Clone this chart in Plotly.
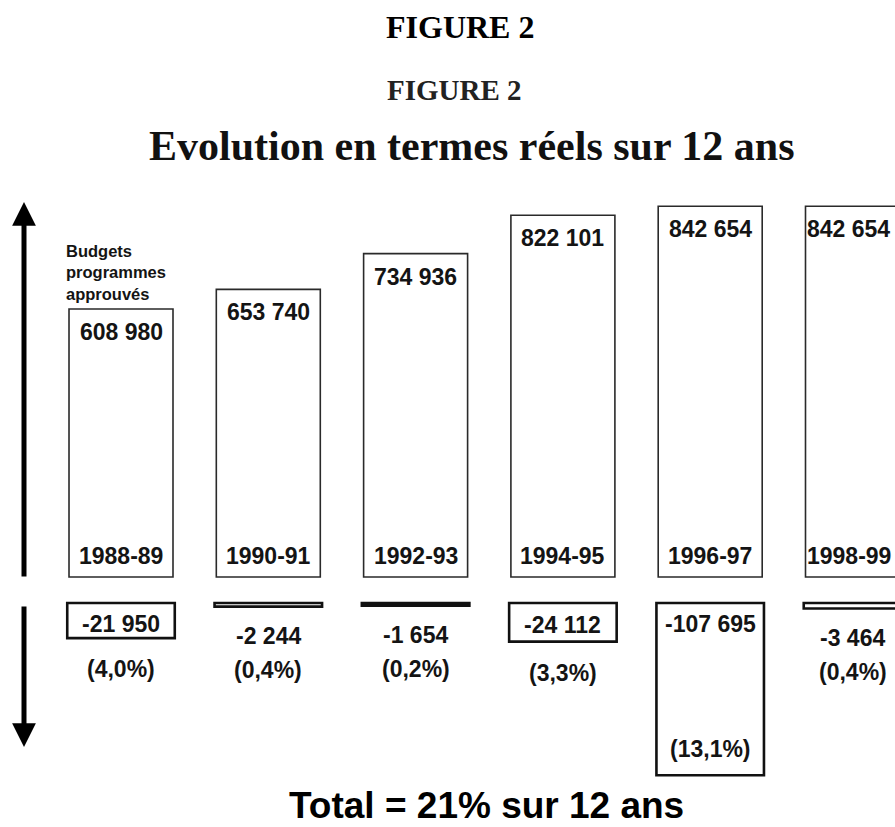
import plotly.graph_objects as go

# ---------------- data ----------------
periods = ["1988-89", "1990-91", "1992-93", "1994-95", "1996-97", "1998-99"]
budgets = [608980, 653740, 734936, 822101, 842654, 842654]
reductions = [-21950, -2244, -1654, -24112, -107695, -3464]
reduction_pct = ["(4,0%)", "(0,4%)", "(0,2%)", "(3,3%)", "(13,1%)", "(0,4%)"]

fig_label = "FIGURE 2"
main_title = "Evolution en termes réels sur 12 ans"
budget_note = "Budgets<br>programmes<br>approuvés"
total_note = "Total = 21% sur 12 ans"

# ---------------- layout helpers ----------------
W, H = 895, 827
SANS = "Liberation Sans, Arial, Helvetica, sans-serif"
SERIF = "Liberation Serif, Times New Roman, serif"
INK = "#141414"


def py(px):
    return 1 - px / H


def fmt(v):
    s = f"{abs(v):,}".replace(",", " ")
    return ("-" if v < 0 else "") + s


fig = go.Figure()
fig.add_trace(go.Bar(
    x=periods, y=budgets, width=0.706, xaxis="x", yaxis="y",
    marker=dict(color="white", line=dict(color="#2a2a2a", width=1.6)),
    hoverinfo="x+y", showlegend=False,
))
fig.add_trace(go.Bar(
    x=periods, y=reductions, width=0.73, xaxis="x2", yaxis="y2",
    marker=dict(color="white", line=dict(color="#111111", width=2.6)),
    hoverinfo="x+y", showlegend=False,
))

ann = []
lab_font = dict(family=SANS, size=23, color=INK)
last = len(periods) - 1

# upper bars: value at top inside, period at bottom inside
for i, (p, v) in enumerate(zip(periods, budgets)):
    xs = -9 if i == last else 0  # keep labels of the edge-cut bar visible
    ann.append(dict(x=p, y=v, xref="x", yref="y", text=f"<b>{fmt(v)}</b>",
                    showarrow=False, yanchor="top", yshift=-8, xshift=xs, font=lab_font))
    ann.append(dict(x=p, y=0, xref="x", yref="y", text=f"<b>{p}</b>",
                    showarrow=False, yanchor="bottom", yshift=6, xshift=xs, font=lab_font))

# lower bars: placement depends on box size
for i, (p, v, pc) in enumerate(zip(periods, reductions, reduction_pct)):
    xs = -5 if i == last else 0
    if abs(v) > 50000:
        ann.append(dict(x=p, y=0, xref="x2", yref="y2", text=f"<b>{fmt(v)}</b>",
                        showarrow=False, yanchor="top", yshift=-6, xshift=xs, font=lab_font))
        ann.append(dict(x=p, y=v, xref="x2", yref="y2", text=f"<b>{pc}</b>",
                        showarrow=False, yanchor="bottom", yshift=11, xshift=xs, font=lab_font))
    elif abs(v) > 10000:
        ann.append(dict(x=p, y=v / 2, xref="x2", yref="y2", text=f"<b>{fmt(v)}</b>",
                        showarrow=False, yanchor="middle", yshift=-3, xshift=xs, font=lab_font))
        ann.append(dict(x=p, y=v, xref="x2", yref="y2", text=f"<b>{pc}</b>",
                        showarrow=False, yanchor="top", yshift=-16, xshift=xs, font=lab_font))
    else:
        ann.append(dict(x=p, y=v, xref="x2", yref="y2", text=f"<b>{fmt(v)}</b>",
                        showarrow=False, yanchor="top", yshift=-14, xshift=xs, font=lab_font))
        ann.append(dict(x=p, y=v, xref="x2", yref="y2", text=f"<b>{pc}</b>",
                        showarrow=False, yanchor="top", yshift=-48, xshift=xs, font=lab_font))

# titles
ann.append(dict(x=460 / W, y=py(27), xref="paper", yref="paper", text=f"<b>{fig_label}</b>",
                showarrow=False, xanchor="center", yanchor="middle",
                font=dict(family=SERIF, size=32, color="#000")))
ann.append(dict(x=455 / W, y=py(90), xref="paper", yref="paper", text=f"<b>{fig_label}</b>",
                showarrow=False, xanchor="center", yanchor="middle",
                font=dict(family=SERIF, size=29, color="#222")))
ann.append(dict(x=472 / W, y=py(146), xref="paper", yref="paper", text=f"<b>{main_title}</b>",
                showarrow=False, xanchor="center", yanchor="middle",
                font=dict(family=SERIF, size=42, color="#111")))
ann.append(dict(x=64 / W, y=py(272), xref="paper", yref="paper", text=f"<b>{budget_note}</b>",
                showarrow=False, xanchor="left", yanchor="middle", align="left",
                font=dict(family=SANS, size=16.5, color=INK)))
ann.append(dict(x=486 / W, y=py(805), xref="paper", yref="paper", text=f"<b>{total_note}</b>",
                showarrow=False, xanchor="center", yanchor="middle",
                font=dict(family=SANS, size=37, color="#000")))

# vertical arrows
ann.append(dict(x=24 / W, y=py(202), xref="paper", yref="paper", ax=0, ay=376,
                axref="pixel", ayref="pixel", text="", showarrow=True,
                arrowhead=2, arrowsize=0.95, arrowwidth=5, arrowcolor="#000", standoff=0))
ann.append(dict(x=24 / W, y=py(747), xref="paper", yref="paper", ax=0, ay=-142,
                axref="pixel", ayref="pixel", text="", showarrow=True,
                arrowhead=2, arrowsize=0.95, arrowwidth=5, arrowcolor="#000", standoff=0))

hidden = dict(showgrid=False, zeroline=False, showline=False, showticklabels=False,
              ticks="", fixedrange=True)
xr = [-0.8215, 5.2546]

fig.update_layout(
    width=W, height=H,
    margin=dict(l=0, r=0, t=0, b=0),
    paper_bgcolor="white", plot_bgcolor="white",
    showlegend=False,
    xaxis=dict(domain=[0, 1], anchor="y", range=xr, type="category", **hidden),
    yaxis=dict(domain=[py(579), py(183)], anchor="x", range=[-4545, 895455], **hidden),
    xaxis2=dict(domain=[0, 1], anchor="y2", range=xr, type="category", **hidden),
    yaxis2=dict(domain=[py(790), py(601)], anchor="x2", range=[-116875, 1250], **hidden),
    annotations=ann,
)

fig.write_html(
    "out.html",
    config={"displayModeBar": False},
    post_script="document.body.style.margin='0';document.body.style.overflow='hidden';",
)
